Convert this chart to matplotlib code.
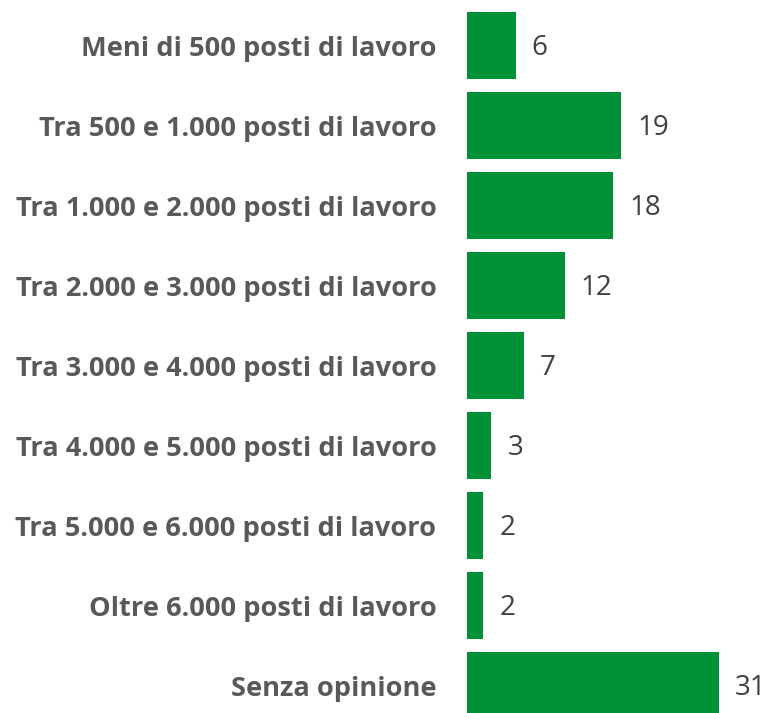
import matplotlib
matplotlib.use("Agg")
import matplotlib.pyplot as plt

categories = [
    "Meni di 500 posti di lavoro",
    "Tra 500 e 1.000 posti di lavoro",
    "Tra 1.000 e 2.000 posti di lavoro",
    "Tra 2.000 e 3.000 posti di lavoro",
    "Tra 3.000 e 4.000 posti di lavoro",
    "Tra 4.000 e 5.000 posti di lavoro",
    "Tra 5.000 e 6.000 posti di lavoro",
    "Oltre 6.000 posti di lavoro",
    "Senza opinione",
]
values = [6, 19, 18, 12, 7, 3, 2, 2, 31]

W, H = 771, 713
fig = plt.figure(figsize=(W / 100, H / 100), dpi=100)
left = 467 / W
ax = fig.add_axes([left, 0, 1 - left, 1])

pos = list(range(len(categories)))
ax.barh(pos, values, height=0.84, color="#009036")

px_per_unit = 8.13
ax.set_xlim(0, (W - 467) / px_per_unit)
ax.set_ylim((H - 45.5) / 80, -45.5 / 80)

ax.set_yticks(pos)
ax.set_yticklabels(categories, fontsize=19.6, fontweight="bold", color="#595959",
                   family="Open Sans")
ax.tick_params(axis="y", length=0, pad=22)
ax.set_xticks([])
for s in ax.spines.values():
    s.set_visible(False)

for p, v in zip(pos, values):
    ax.annotate(str(v), (v, p), xytext=(11.5, -1.5), textcoords="offset points",
                ha="left", va="center", fontsize=20, color="#404040",
                family="Open Sans")

fig.savefig("out.png", dpi=100)
